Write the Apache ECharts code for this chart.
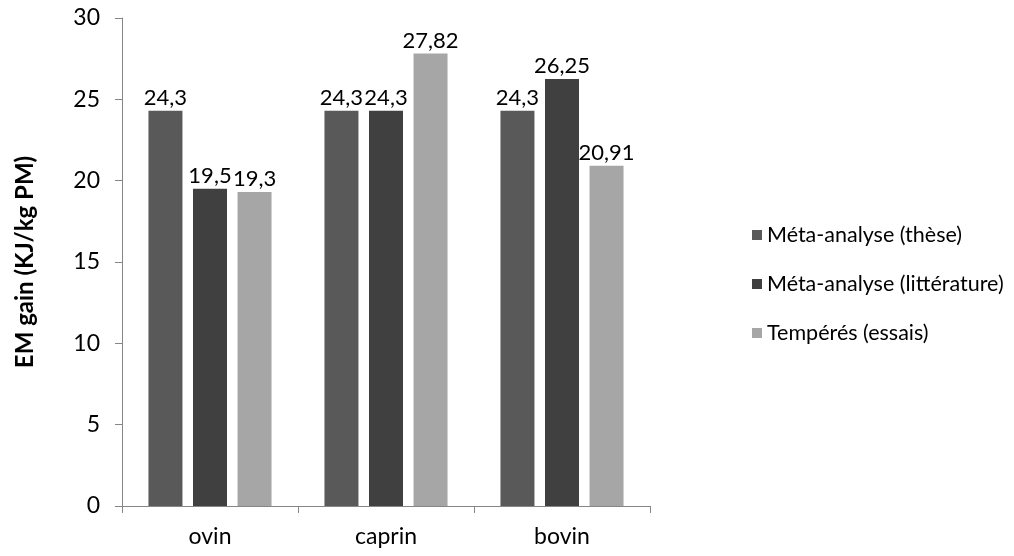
<!DOCTYPE html>
<html><head><meta charset="utf-8">
<script src="https://cdn.jsdelivr.net/npm/echarts@6/dist/echarts.min.js"></script>
<style>html,body{margin:0;padding:0;background:#fff}#c{width:1014px;height:556px}</style>
</head><body><div id="c"></div>
<script>
const categories = ['ovin', 'caprin', 'bovin'];
const seriesNames = ['Méta-analyse (thèse)', 'Méta-analyse (littérature)', 'Tempérés (essais)'];
const metaThese = [24.3, 24.3, 24.3];
const metaLitt = [19.5, 24.3, 26.25];
const temperes = [19.3, 27.82, 20.91];
const yTicks = [0, 5, 10, 15, 20, 25, 30];
const colors = ['#595959', '#404040', '#A6A6A6'];
const font = 'Lato, "Open Sans", sans-serif';
const chart = echarts.init(document.getElementById('c'));
const fmt = p => String(p.value).replace('.', ',');
const mk = (name, data, color) => ({
  name, type: 'bar', data, barWidth: 34, barGap: '31%',
  itemStyle: { color },
  label: { show: true, position: 'top', formatter: fmt, color: '#000', fontSize: 22, fontFamily: font, distance: 2 }
});
chart.setOption({
  animation: false,
  color: colors,
  grid: { left: 122, right: 364, top: 18, bottom: 50 },
  legend: {
    orient: 'vertical', left: 747, top: 219, itemWidth: 10, itemHeight: 10, itemGap: 27,
    icon: 'rect',
    textStyle: { fontSize: 21.5, fontFamily: font, color: '#000' },
    data: seriesNames
  },
  xAxis: {
    type: 'category', data: categories,
    axisLine: { lineStyle: { color: '#868686', width: 1 } },
    axisTick: { show: true, length: 7, lineStyle: { color: '#868686' } },
    axisLabel: { fontSize: 23, fontFamily: font, color: '#000', margin: 19 }
  },
  yAxis: {
    type: 'value', min: yTicks[0], max: yTicks[yTicks.length - 1], interval: 5,
    name: 'EM gain (KJ/kg PM)', nameLocation: 'middle', nameGap: 85, nameRotate: 90,
    nameTextStyle: { fontSize: 24, fontWeight: 'bold', fontFamily: font, color: '#000' },
    axisLine: { show: true, lineStyle: { color: '#868686', width: 1 } },
    axisTick: { show: true, length: 7, lineStyle: { color: '#868686' } },
    splitLine: { show: false },
    axisLabel: { fontSize: 23, fontFamily: font, color: '#000', margin: 22 }
  },
  series: [
    mk(seriesNames[0], metaThese, colors[0]),
    mk(seriesNames[1], metaLitt, colors[1]),
    mk(seriesNames[2], temperes, colors[2])
  ]
});
</script></body></html>
